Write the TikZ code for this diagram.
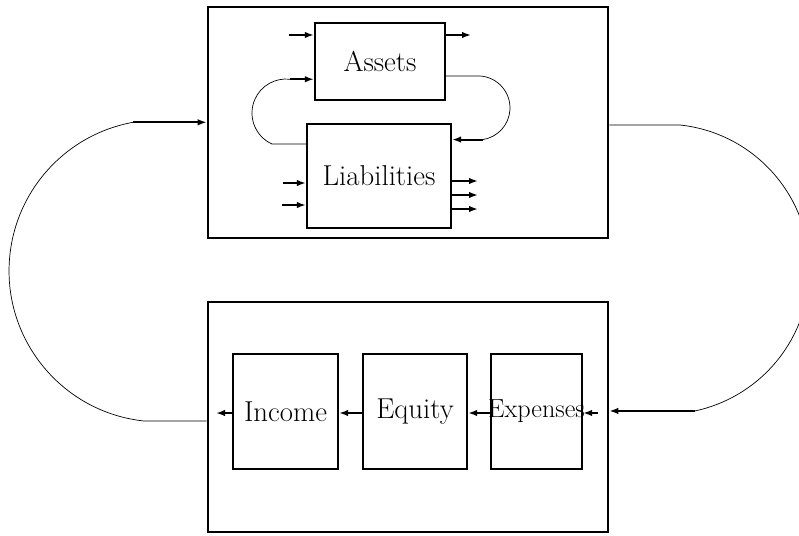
\documentclass[tikz,border=0pt]{standalone}
\usetikzlibrary{arrows.meta,calc}
\begin{document}
\begin{tikzpicture}[x=1pt,y=-1pt,
  outer/.style={draw,line width=2.6pt,inner sep=0pt,minimum width=400pt,minimum height=#1},
  box/.style={draw,line width=2.2pt,inner sep=0pt,font=\fontsize{28.8}{34}\selectfont},
  arr/.style={line width=2pt,-{Latex[length=9pt,width=6.5pt]}},
  link/.style={line width=0.7pt}]
\useasboundingbox (0,0) rectangle (799,535);
% outer frames
\node[outer=231pt] (T) at (408,122.5) {};
\node[outer=230pt] (B) at (408,417) {};
% inner boxes
\node[box,minimum width=130pt,minimum height=77pt] (A) at (380,61.5) {Assets};
\node[box,minimum width=144pt,minimum height=104pt] (L) at (379,176) {Liabilities};
\node[box,minimum width=105pt,minimum height=115pt] (I) at (285.5,411.5) {Income};
\node[box,minimum width=104pt,minimum height=115pt] (Q) at (415,411.5) {Equity};
\node[box,minimum width=91pt,minimum height=115pt,font=\fontsize{26.2}{31}\selectfont] (X) at (536.5,411.5) {\makebox[0pt]{Expenses}};
% stub arrows on Assets
\coordinate (aIn) at (289,35);
\coordinate (aOut) at (471,35);
\draw[arr] (aIn) -- (aIn -| A.west);
\draw[arr] (aOut -| A.east) -- (aOut);
% stub arrows on Liabilities
\coordinate (lIn1) at (283,183);
\coordinate (lIn2) at (282,205);
\coordinate (lOut1) at (478,181);
\coordinate (lOut2) at (478,195);
\coordinate (lOut3) at (478,209);
\draw[arr] (lIn1) -- (lIn1 -| L.west);
\draw[arr] (lIn2) -- (lIn2 -| L.west);
\draw[arr] (lOut1 -| L.east) -- (lOut1);
\draw[arr] (lOut2 -| L.east) -- (lOut2);
\draw[arr] (lOut3 -| L.east) -- (lOut3);
% inner loops
\coordinate (c1) at (272,144);
\draw[link] (c1 -| L.west) -- (c1) arc[start angle=114.3, end angle=276.7, radius=34] coordinate (c2);
\draw[arr] (c2) -- (c2 -| A.west);
\coordinate (c3) at (480,76);
\draw[link] (c3 -| A.east) -- (c3) arc[start angle=-86.4, end angle=81.1, radius=32] coordinate (c4);
\draw[arr] (c4) -- (c4 -| L.east);
% big loops
\coordinate (b1) at (144,421);
\draw[link] (b1 -| B.west) -- (b1) arc[start angle=96.1, end angle=259.7, radius=151] coordinate (b2);
\draw[arr] (b2) -- (b2 -| T.west);
\coordinate (r1) at (680,125);
\draw[link] (r1 -| T.east) -- (r1) arc[start angle=-83.9, end angle=77.9, radius=145] coordinate (r2);
\draw[arr] (r2) -- (r2 -| B.east);
% bottom chain
\coordinate (iOut) at (216,413);
\coordinate (xIn) at (598,413);
\draw[arr] (I.west |- iOut) -- (iOut);
\draw[arr] (Q.west |- iOut) -- (I.east |- iOut);
\draw[arr] (X.west |- iOut) -- (Q.east |- iOut);
\draw[arr] (xIn) -- (xIn -| X.east);
\end{tikzpicture}
\end{document}
